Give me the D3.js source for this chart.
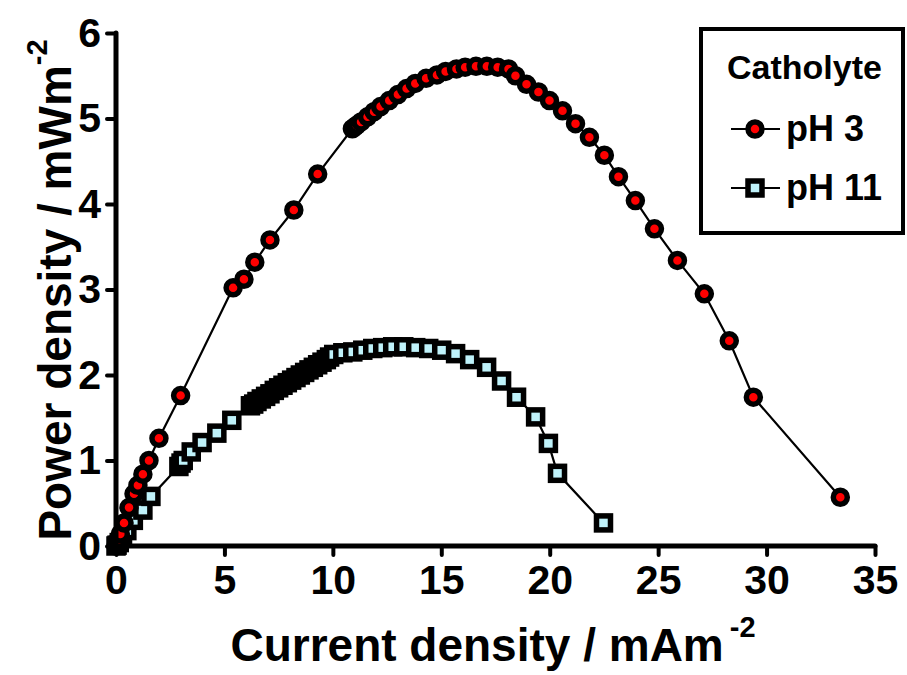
<!DOCTYPE html>
<html lang="en">
  <head>
    <meta charset="UTF-8" />
    <title>Power density vs current density</title>
    <script src="https://d3js.org/d3.v7.min.js"></script>
    <style>
      body { margin: 0; background: #fff; }
      svg { display: block; font-family: "Liberation Sans", Arial, sans-serif; font-weight: bold; }
    </style>
  </head>
  <body>
    <script>
      // pH 3 catholyte: current density (mA m-2) and power density (mW m-2)
      const ph3Current = [0.0, 0.03, 0.1, 0.2, 0.37, 0.6, 0.83, 1.01, 1.24, 1.52, 1.98, 2.98,
        5.4, 5.9, 6.4, 7.1, 8.2, 9.3,
        10.9, 11.0, 11.1, 11.3, 11.6, 11.9, 12.2, 12.6, 13.0, 13.4, 13.8, 14.3, 14.8, 15.2, 15.7, 16.1, 16.6, 17.1, 17.6, 18.1,
        18.42, 18.93, 19.48, 19.99, 20.59, 21.19, 21.83, 22.52, 23.17, 23.95, 24.83, 25.89, 27.13, 28.28, 29.39, 33.4];
      const ph3Power = [0.0, 0.02, 0.07, 0.14, 0.27, 0.45, 0.61, 0.71, 0.84, 1.0, 1.26, 1.76,
        3.02, 3.12, 3.32, 3.58, 3.93, 4.35,
        4.88, 4.9, 4.92, 4.96, 5.02, 5.08, 5.14, 5.21, 5.28, 5.35, 5.41, 5.47, 5.51, 5.55, 5.58, 5.6, 5.61, 5.61, 5.6, 5.58,
        5.5, 5.4, 5.31, 5.21, 5.09, 4.94, 4.78, 4.57, 4.32, 4.04, 3.71, 3.34, 2.95, 2.4, 1.74, 0.57];

      // pH 11 catholyte
      const ph11Current = [0.0, 0.05, 0.15, 0.3, 0.5, 0.8, 1.24, 1.61,
        2.9, 3.0, 3.1, 3.47, 3.97, 4.65, 5.34,
        6.2, 6.35, 6.5, 6.7, 6.9, 7.1, 7.3, 7.5, 7.7, 7.9, 8.1, 8.3, 8.5, 8.7, 8.9, 9.1, 9.3, 9.5, 9.7, 9.85,
        10.04, 10.46, 10.92, 11.38, 11.84, 12.3, 12.76, 13.27, 13.82, 14.42, 15.02, 15.66, 16.31, 17.09, 17.78,
        18.47, 19.35, 19.94, 20.36, 22.48];
      const ph11Power = [0.0, 0.01, 0.04, 0.1, 0.18, 0.3, 0.42, 0.58,
        0.93, 0.97, 1.0, 1.1, 1.21, 1.32, 1.47,
        1.64, 1.66, 1.69, 1.72, 1.75, 1.78, 1.82, 1.85, 1.88, 1.91, 1.94, 1.97, 2.0, 2.03, 2.06, 2.09, 2.12, 2.15, 2.18, 2.21,
        2.24, 2.26, 2.27, 2.29, 2.31, 2.32, 2.33, 2.33, 2.32, 2.31, 2.29, 2.25, 2.18, 2.09, 1.93,
        1.74, 1.51, 1.2, 0.85, 0.27];

      const xTicks = [0, 5, 10, 15, 20, 25, 30, 35];
      const yTicks = [0, 1, 2, 3, 4, 5, 6];
      const legendLabels = ["pH 3", "pH 11"];

      const width = 907, height = 675;
      const svg = d3.select("body").append("svg")
        .attr("width", width)
        .attr("height", height);

      const x = d3.scaleLinear().domain([0, 35]).range([116, 875]);
      const y = d3.scaleLinear().domain([0, 6]).range([546, 33]);

      const ph3 = ph3Current.map((c, i) => [c, ph3Power[i]]);
      const ph11 = ph11Current.map((c, i) => [c, ph11Power[i]]);

      const line = d3.line().x(d => x(d[0])).y(d => y(d[1]));

      // connecting lines
      svg.append("path").datum(ph11).attr("d", line)
        .attr("fill", "none").attr("stroke", "#000").attr("stroke-width", 2.2);
      svg.append("path").datum(ph3).attr("d", line)
        .attr("fill", "none").attr("stroke", "#000").attr("stroke-width", 2.2);

      // markers
      const sq = 14;
      svg.append("g").selectAll("rect").data(ph11).join("rect")
        .attr("x", d => x(d[0]) - sq / 2)
        .attr("y", d => y(d[1]) - sq / 2)
        .attr("width", sq).attr("height", sq)
        .attr("fill", "#bff2fa").attr("stroke", "#000").attr("stroke-width", 5.5);

      svg.append("g").selectAll("circle").data(ph3).join("circle")
        .attr("cx", d => x(d[0]))
        .attr("cy", d => y(d[1]))
        .attr("r", 7)
        .attr("fill", "#ff0000").attr("stroke", "#000").attr("stroke-width", 5.5);

      // axes
      const xAxis = svg.append("g").attr("transform", `translate(0,${y(0)})`)
        .call(d3.axisBottom(x).tickValues(xTicks).tickSize(9).tickPadding(10).tickFormat(d3.format("d")));
      const yAxis = svg.append("g").attr("transform", `translate(${x(0)},0)`)
        .call(d3.axisLeft(y).tickValues(yTicks).tickSize(9).tickPadding(6).tickFormat(d3.format("d")));

      [xAxis, yAxis].forEach(g => {
        g.select(".domain").attr("stroke-width", 5).attr("stroke-linecap", "round");
        g.selectAll(".tick line").attr("stroke-width", 4).attr("stroke-linecap", "round");
        g.selectAll(".tick text").attr("font-size", 41).attr("font-weight", "bold")
          .attr("font-family", "Liberation Sans, Arial, sans-serif").attr("fill", "#000");
      });
      xAxis.select(".domain").attr("d", `M${x(0)},0H${x(35)}`);
      yAxis.select(".domain").attr("d", `M0,${y(0)}V${y(6)}`);

      // axis titles
      const xt = svg.append("text").attr("x", 493).attr("y", 661)
        .attr("text-anchor", "middle").attr("font-size", 46);
      xt.append("tspan").text("Current density / mAm");
      xt.append("tspan").attr("dx", 6).attr("dy", -24).attr("font-size", 29).text("-2");

      const yt = svg.append("text")
        .attr("transform", "translate(71,290) rotate(-90)")
        .attr("text-anchor", "middle").attr("font-size", 46);
      yt.append("tspan").text("Power density / mWm");
      yt.append("tspan").attr("dy", -24).attr("font-size", 29).text("-2");

      // legend
      const lg = svg.append("g");
      lg.append("rect").attr("x", 701).attr("y", 29).attr("width", 202).attr("height", 204)
        .attr("fill", "#fff").attr("stroke", "#000").attr("stroke-width", 4);
      lg.append("text").attr("x", 727).attr("y", 79)
        .attr("font-size", 34).text("Catholyte");

      legendLabels.forEach((lab, i) => {
        const cy = 129 + i * 59;
        lg.append("line").attr("x1", 731).attr("x2", 780).attr("y1", cy).attr("y2", cy)
          .attr("stroke", "#000").attr("stroke-width", 2.2);
        if (i === 0) {
          lg.append("circle").attr("cx", 755).attr("cy", cy).attr("r", 7)
            .attr("fill", "#ff0000").attr("stroke", "#000").attr("stroke-width", 5.5);
        } else {
          lg.append("rect").attr("x", 755 - sq / 2).attr("y", cy - sq / 2)
            .attr("width", sq).attr("height", sq)
            .attr("fill", "#bff2fa").attr("stroke", "#000").attr("stroke-width", 5.5);
        }
        lg.append("text").attr("x", 786).attr("y", cy + 12).attr("font-size", 36).text(lab);
      });
    </script>
  </body>
</html>
